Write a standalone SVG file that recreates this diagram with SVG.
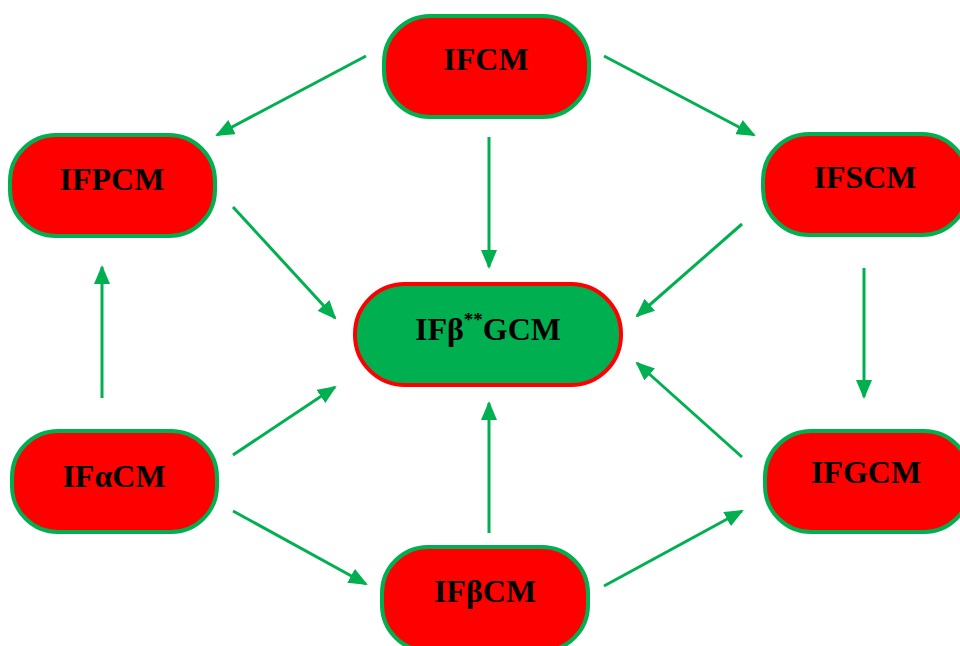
<svg xmlns="http://www.w3.org/2000/svg" width="960" height="646" viewBox="0 0 960 646">
<defs>
<marker id="ah" markerUnits="userSpaceOnUse" markerWidth="19" markerHeight="16" refX="17" refY="8" orient="auto">
<path d="M0,0 L19,8 L0,16 Z" fill="#00B050"/>
</marker>
<style>
.n rect{fill:#FF0000;stroke:#00B050;stroke-width:4}
.c rect{fill:#00B050;stroke:#FF0000;stroke-width:4}
text{font-family:"Liberation Serif","Times New Roman",serif;font-weight:bold;font-size:32px;fill:#000;text-anchor:middle}
.e line{stroke:#00B050;stroke-width:3;marker-end:url(#ah)}
</style>
</defs>
<rect width="960" height="646" fill="#fff"/>
<g id="IFCM" class="n"><rect x="384" y="16" width="205" height="101" rx="46"/><text x="486" y="70">IFCM</text></g>
<g id="IFPCM" class="n"><rect x="10" y="135" width="205" height="101" rx="46"/><text x="112" y="190">IFPCM</text></g>
<g id="IFSCM" class="n"><rect x="763" y="134" width="205" height="101" rx="46"/><text x="865" y="188">IFSCM</text></g>
<g id="IFbGCM" class="c"><rect x="355" y="284" width="266" height="101" rx="50"/><text x="488" y="340">IFβ<tspan font-size="19" dy="-14">**</tspan><tspan dy="14">GCM</tspan></text></g>
<g id="IFaCM" class="n"><rect x="12" y="431" width="205" height="101" rx="46"/><text x="114" y="487">IFαCM</text></g>
<g id="IFGCM" class="n"><rect x="765" y="431" width="205" height="101" rx="46"/><text x="866" y="483">IFGCM</text></g>
<g id="IFbCM" class="n"><rect x="382" y="547" width="206" height="104" rx="46"/><text x="485" y="602">IFβCM</text></g>
<g id="connectors" class="e">
<line x1="366" y1="56" x2="217" y2="135"/>
<line x1="604" y1="56" x2="754" y2="135"/>
<line x1="489" y1="137" x2="489" y2="267"/>
<line x1="233" y1="207" x2="335" y2="318"/>
<line x1="742" y1="224" x2="637" y2="316"/>
<line x1="864" y1="268" x2="864" y2="397"/>
<line x1="102" y1="398" x2="102" y2="267"/>
<line x1="233" y1="455" x2="335" y2="387"/>
<line x1="233" y1="511" x2="366" y2="584"/>
<line x1="489" y1="533" x2="489" y2="403"/>
<line x1="604" y1="586" x2="742" y2="511"/>
<line x1="742" y1="457" x2="637" y2="363"/>
</g>
</svg>
